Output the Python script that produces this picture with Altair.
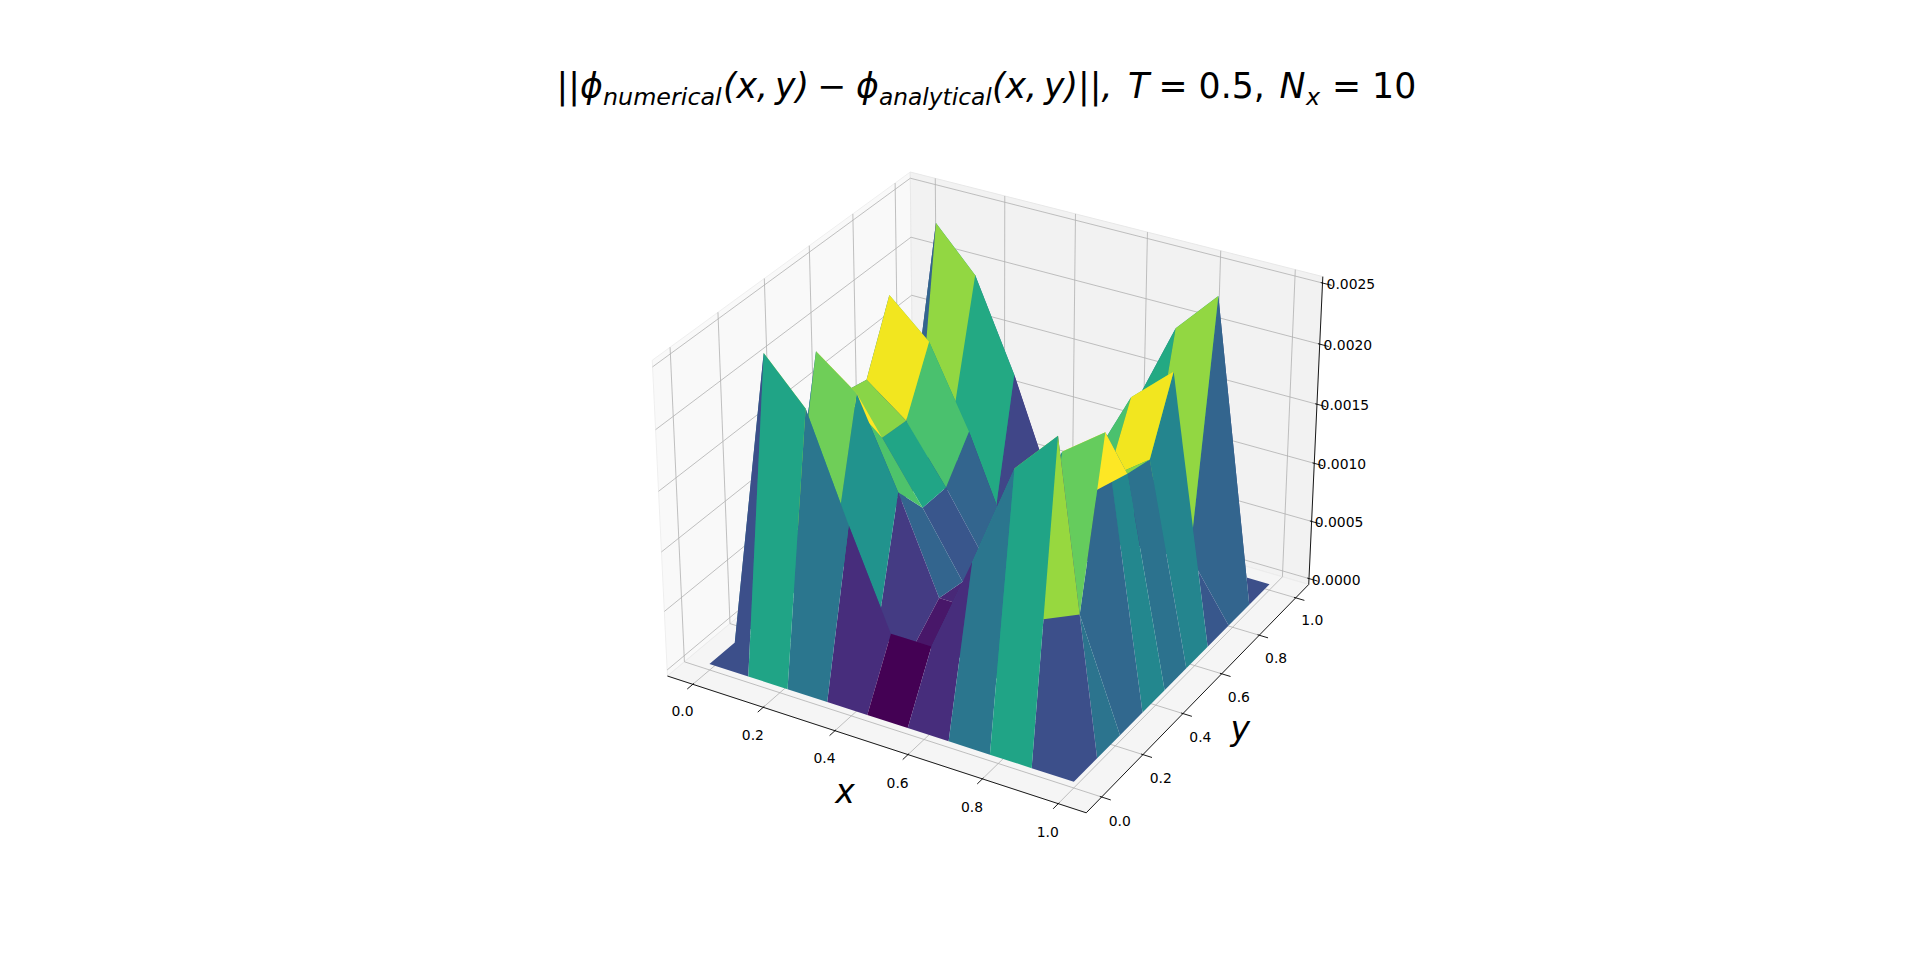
import altair as alt
import numpy as np
import pandas as pd

# grid nodes, N_x = 10 in each direction
x_nodes = [0.0, 1/9, 2/9, 3/9, 4/9, 5/9, 6/9, 7/9, 8/9, 1.0]
y_nodes = [0.0, 1/9, 2/9, 3/9, 4/9, 5/9, 6/9, 7/9, 8/9, 1.0]

# |phi_numerical - phi_analytical|, one list per y node (x along the list)
err_y0 = [0.0, 0.0, 0.0, 0.0, 0.0, 0.0, 0.0, 0.0, 0.0, 0.0]
err_y1 = [0.0, 0.00250, 0.00215, 0.00130, 0.00050, 0.00050, 0.00130, 0.00215, 0.00250, 0.0]
err_y2 = [0.0, 0.00090, 0.00085, 0.00015, 0.00024, 0.00024, 0.00015, 0.00075, 0.00090, 0.0]
err_y3 = [0.0, 0.00220, 0.00195, 0.00123, 0.00044, 0.00044, 0.00123, 0.00195, 0.00220, 0.0]
err_y4 = [0.0, 0.00170, 0.00142, 0.00093, 0.00040, 0.00040, 0.00093, 0.00142, 0.00170, 0.0]
err_y5 = [0.0, 0.00165, 0.00140, 0.00093, 0.00040, 0.00040, 0.00093, 0.00140, 0.00165, 0.0]
err_y6 = [0.0, 0.00220, 0.00190, 0.00124, 0.00044, 0.00044, 0.00124, 0.00190, 0.00220, 0.0]
err_y7 = [0.0, 0.00050, 0.00110, 0.00015, 0.00024, 0.00024, 0.00015, 0.00110, 0.00050, 0.0]
err_y8 = [0.0, 0.00250, 0.00215, 0.00140, 0.00050, 0.00050, 0.00140, 0.00215, 0.00250, 0.0]
err_y9 = [0.0, 0.0, 0.0, 0.0, 0.0, 0.0, 0.0, 0.0, 0.0, 0.0]
err_rows = [err_y0, err_y1, err_y2, err_y3, err_y4, err_y5, err_y6, err_y7, err_y8, err_y9]

x_ticks = [0.0, 0.2, 0.4, 0.6, 0.8, 1.0]
y_ticks = [0.0, 0.2, 0.4, 0.6, 0.8, 1.0]
z_ticks = [0.0, 0.0005, 0.0010, 0.0015, 0.0020, 0.0025]

W, H = 1895, 945
XLIM, YLIM, ZLIM = (-0.05, 1.05), (-0.05, 1.05), (0.0, 0.0025)

# --- 3d view (elev 30, azim -60, perspective) ---
box = np.array([4.0, 4.0, 3.0])
box *= 1.8294640721620434 / np.linalg.norm(box)
el, az = np.radians(30), np.radians(-60)
wv = np.array([np.cos(el) * np.cos(az), np.cos(el) * np.sin(az), np.sin(el)])
eye = box / 2 + 10 * wv
uv = np.cross([0.0, 0.0, 1.0], wv)
uv /= np.linalg.norm(uv)
vv = np.cross(wv, uv)


def project(x, y, z):
    p = np.array([(x - XLIM[0]) / (XLIM[1] - XLIM[0]) * box[0],
                  (y - YLIM[0]) / (YLIM[1] - YLIM[0]) * box[1],
                  (z - ZLIM[0]) / (ZLIM[1] - ZLIM[0]) * box[2]])
    d = p - eye
    depth = -(d @ wv)
    return float(d @ uv / depth), float(d @ vv / depth), float(depth)


def padded(lo, hi):
    d = (hi - lo) / 48
    return lo - d, hi + d


X0, X1 = padded(*XLIM)
Y0, Y1 = padded(*YLIM)
Z0, Z1 = padded(*ZLIM)
dx, dy = (X1 - X0) / 12, (Y1 - Y0) / 12


def polygon(points, **props):
    ring = [list(project(*p)[:2]) for p in points]
    ring.append(ring[0])
    return {"type": "Feature", "geometry": {"type": "Polygon", "coordinates": [ring]},
            "properties": props}


def line(points, **props):
    return {"type": "Feature",
            "geometry": {"type": "LineString", "coordinates": [list(project(*p)[:2]) for p in points]},
            "properties": props}


panes = [
    polygon([(X0, Y0, Z0), (X0, Y1, Z0), (X0, Y1, Z1), (X0, Y0, Z1)], fill="#f9f9f9", edge="#efefef"),
    polygon([(X0, Y1, Z0), (X1, Y1, Z0), (X1, Y1, Z1), (X0, Y1, Z1)], fill="#f2f2f2", edge="#e8e8e8"),
    polygon([(X0, Y0, Z0), (X1, Y0, Z0), (X1, Y1, Z0), (X0, Y1, Z0)], fill="#f5f5f5", edge="#ececec"),
]

lines = []
for t in x_ticks:
    lines.append(line([(t, Y0, Z0), (t, Y1, Z0), (t, Y1, Z1)], col="#b0b0b0", lw=0.8))
for t in y_ticks:
    lines.append(line([(X1, t, Z0), (X0, t, Z0), (X0, t, Z1)], col="#b0b0b0", lw=0.8))
for t in z_ticks:
    lines.append(line([(X0, Y0, t), (X0, Y1, t), (X1, Y1, t)], col="#b0b0b0", lw=0.8))
lines.append(line([(X0, Y0, Z0), (X1, Y0, Z0)], col="black", lw=0.9))
lines.append(line([(X1, Y0, Z0), (X1, Y1, Z0)], col="black", lw=0.9))
lines.append(line([(X1, Y1, Z0), (X1, Y1, Z1)], col="black", lw=0.9))
for t in x_ticks:
    lines.append(line([(t, Y0 - 0.25 * dy, Z0), (t, Y0 + 0.05 * dy, Z0)], col="black", lw=0.9))
for t in y_ticks:
    lines.append(line([(X1 + 0.25 * dx, t, Z0), (X1 - 0.05 * dx, t, Z0)], col="black", lw=0.9))
for t in z_ticks:
    lines.append(line([(X1 + 0.25 * dx, Y1, t), (X1 - 0.05 * dx, Y1, t)], col="black", lw=0.9))

# surface facets, far ones first
facets = []
for j in range(len(y_nodes) - 1):
    for i in range(len(x_nodes) - 1):
        pts = [(x_nodes[a], y_nodes[b], err_rows[b][a])
               for a, b in [(i, j), (i + 1, j), (i + 1, j + 1), (i, j + 1)]]
        avg = float(np.mean([p[2] for p in pts]))
        depth = float(np.mean([project(*p)[2] for p in pts]))
        facets.append((depth, polygon(pts, avg=avg)))
facets.sort(key=lambda f: -f[0])
surface = [f[1] for f in facets]
avgs = [f["properties"]["avg"] for f in surface]

# tick and axis labels
zoff = 0.055 * (ZLIM[1] - ZLIM[0]) / box[2]
labels = []
for t in x_ticks:
    X, Y, _ = project(t, Y0 - 0.048, Z0 - zoff)
    labels.append({"lon": X, "lat": Y, "label": f"{t:.1f}"})
for t in y_ticks:
    X, Y, _ = project(X1 + 0.048, t, Z0 - zoff)
    labels.append({"lon": X, "lat": Y, "label": f"{t:.1f}"})
for t in z_ticks:
    X, Y, _ = project(X1 + 0.0626, Y1 + 0.0252, t)
    labels.append({"lon": X, "lat": Y, "label": f"{t:.4f}"})
labels = pd.DataFrame(labels)

axis_names = []
X, Y, _ = project(0.5, Y0 - 0.119, Z0 - 0.075 * (ZLIM[1] - ZLIM[0]) / box[2])
axis_names.append({"lon": X, "lat": Y, "label": "x"})
X, Y, _ = project(X1 + 0.103, 0.5, Z0 - 0.073 * (ZLIM[1] - ZLIM[0]) / box[2])
axis_names.append({"lon": X, "lat": Y, "label": "y"})
axis_names = pd.DataFrame(axis_names)

proj = dict(type="identity", scale=4030, translate=[986, 469], reflectY=True)

pane_layer = alt.Chart(alt.Data(values=panes)).mark_geoshape(strokeWidth=1).encode(
    fill=alt.Fill("properties.fill:N", scale=None),
    stroke=alt.Stroke("properties.edge:N", scale=None),
).project(**proj)

line_layer = alt.Chart(alt.Data(values=lines)).mark_geoshape(filled=False).encode(
    stroke=alt.Stroke("properties.col:N", scale=None),
    strokeWidth=alt.StrokeWidth("properties.lw:Q", scale=None),
).project(**proj)

surface_layer = alt.Chart(alt.Data(values=surface)).mark_geoshape(strokeWidth=0).encode(
    color=alt.Color("properties.avg:Q",
                    scale=alt.Scale(scheme="viridis", domain=[min(avgs), max(avgs)]),
                    legend=None),
).project(**proj)

tick_text = alt.Chart(labels).mark_text(
    font="DejaVu Sans", fontSize=13.9, align="center", baseline="middle", color="black"
).encode(longitude="lon:Q", latitude="lat:Q", text="label:N").project(**proj)

axis_text = alt.Chart(axis_names).mark_text(
    font="DejaVu Sans", fontSize=33, fontStyle="italic", align="center", baseline="middle", color="black"
).encode(longitude="lon:Q", latitude="lat:Q", text="label:N").project(**proj)

# title, written piece by piece to get the math subscripts
title_pieces = [
    ("||", 548.5, 90.3, 34.7, "normal"),
    ("\u03d5", 572, 90.3, 34.7, "italic"),
    ("numerical", 595, 97, 23.8, "italic"),
    ("(x,\u2009y)", 715, 90.3, 34.7, "italic"),
    ("\u2212", 809, 90.3, 34.7, "normal"),
    ("\u03d5", 848, 90.3, 34.7, "italic"),
    ("analytical", 871, 97, 23.3, "italic"),
    ("(x,\u2009y)||,", 984, 90.3, 34.7, "italic"),
    ("T", 1120, 90.3, 34.7, "italic"),
    ("= 0.5,", 1150.5, 90.3, 34.7, "normal"),
    ("N", 1271.5, 90.3, 34.7, "italic"),
    ("x", 1298, 97, 23.8, "italic"),
    ("= 10", 1324, 90.3, 34.7, "normal"),
]
title_layers = []
for s, px, py, fs, style in title_pieces:
    title_layers.append(
        alt.Chart(pd.DataFrame({"t": [s]})).mark_text(
            font="DejaVu Sans", fontSize=fs, fontStyle=style, align="left",
            baseline="alphabetic", color="black"
        ).encode(text="t:N", x=alt.value(px), y=alt.value(py))
    )

chart = alt.layer(
    pane_layer, line_layer, surface_layer, tick_text, axis_text, *title_layers
).properties(
    width=W, height=H, autosize=alt.AutoSizeParams(type="none"), padding=0, background="white"
).configure_view(strokeWidth=0)

chart.save("out.html", embed_options={"renderer": "svg", "actions": False})
